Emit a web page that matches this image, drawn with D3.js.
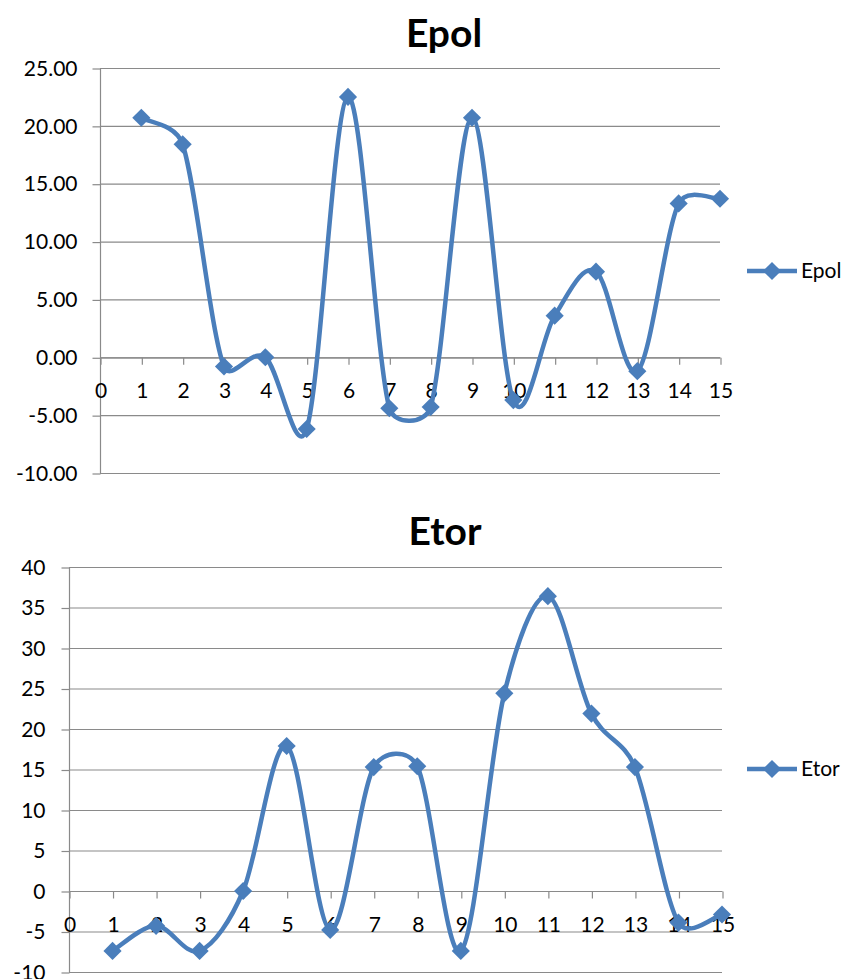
<!DOCTYPE html>
<html>
<head>
<meta charset="utf-8">
<script src="https://cdn.jsdelivr.net/npm/d3@7"></script>
<style>
  html, body { margin: 0; padding: 0; background: #ffffff; }
  svg { display: block; }
  text { font-family: Lato, "Open Sans", "Liberation Sans", sans-serif; fill: #000; }
</style>
</head>
<body>
<svg id="chart" width="845" height="979"></svg>
<script>
// ---- data ----
const categories = [1, 2, 3, 4, 5, 6, 7, 8, 9, 10, 11, 12, 13, 14, 15];
const epolValues = [20.7, 18.4, -0.8, 0.0, -6.2, 22.5, -4.4, -4.3, 20.7, -3.7, 3.6, 7.4, -1.2, 13.3, 13.7];
const etorValues = [-7.4, -4.3, -7.4, 0.0, 17.9, -4.8, 15.3, 15.4, -7.4, 24.4, 36.4, 21.9, 15.3, -3.9, -2.9];
const xTicks = [0, 1, 2, 3, 4, 5, 6, 7, 8, 9, 10, 11, 12, 13, 14, 15];
const epolYTicks = [-10, -5, 0, 5, 10, 15, 20, 25];
const etorYTicks = [-10, -5, 0, 5, 10, 15, 20, 25, 30, 35, 40];

const COLOR = "#4a7ebb";
const GRID = "#8a8a8a";
const svg = d3.select("#chart");
const fmtLocale = d3.formatLocale({ decimal: ".", thousands: ",", grouping: [3], currency: ["", ""], minus: "-" });

// Excel-like smoothed line: Bezier segments, tangent along (P2-P0),
// handle length = min(|P0P2|/6, 0.44*|P1P2|)
function smoothPath(pts) {
  const p = d3.path();
  const dist = (a, b) => Math.hypot(b[0] - a[0], b[1] - a[1]);
  p.moveTo(pts[0][0], pts[0][1]);
  for (let i = 0; i < pts.length - 1; i++) {
    const p0 = pts[Math.max(i - 1, 0)], p1 = pts[i], p2 = pts[i + 1], p3 = pts[Math.min(i + 2, pts.length - 1)];
    const d12 = dist(p1, p2), d02 = dist(p0, p2), d13 = dist(p1, p3);
    const f1 = Math.min(1 / 6, 0.44 * d12 / d02);
    const f2 = Math.min(1 / 6, 0.44 * d12 / d13);
    const c1 = [p1[0] + (p2[0] - p0[0]) * f1, p1[1] + (p2[1] - p0[1]) * f1];
    const c2 = [p2[0] - (p3[0] - p1[0]) * f2, p2[1] - (p3[1] - p1[1]) * f2];
    p.bezierCurveTo(c1[0], c1[1], c2[0], c2[1], p2[0], p2[1]);
  }
  return p.toString();
}

function drawPanel(cfg) {
  const g = svg.append("g");
  const x = d3.scaleLinear().domain([0, 15]).range([cfg.left, cfg.right]);
  const y = d3.scaleLinear().domain([cfg.ymin, cfg.ymax]).range([cfg.bottom, cfg.top]);

  // title
  g.append("text").attr("x", cfg.titleX).attr("y", cfg.titleY)
    .attr("text-anchor", "middle").style("font-size", "39px").style("font-weight", "bold")
    .text(cfg.title);

  // gridlines
  g.selectAll(".grid").data(cfg.yTicks).enter().append("line")
    .attr("x1", cfg.left).attr("x2", cfg.right)
    .attr("y1", d => y(d) + 0.5).attr("y2", d => y(d) + 0.5)
    .attr("stroke", GRID).attr("stroke-width", 1.2);

  // y axis
  const yAxis = d3.axisLeft(y).tickValues(cfg.yTicks).tickSize(8).tickPadding(cfg.yPad)
    .tickFormat(cfg.yFormat);
  const ya = g.append("g").attr("transform", `translate(${cfg.left + 0.5},0.5)`).call(yAxis);
  ya.selectAll("path, line").attr("stroke", GRID).attr("stroke-width", 1.2);
  ya.select(".domain").attr("d", `M0,${y(cfg.ymin)}V${y(cfg.ymax)}`);
  ya.selectAll("text").style("font-size", "21px").style("font-family", "Lato, sans-serif").attr("fill", "#000");

  // x axis at y=0
  const xAxis = d3.axisBottom(x).tickValues(xTicks).tickSize(7).tickPadding(0).tickFormat(fmtLocale.format("d"));
  const xa = g.append("g").attr("transform", `translate(0.5,${y(0) + 0.5})`).call(xAxis);
  xa.selectAll("path, line").attr("stroke", GRID).attr("stroke-width", 1.2);
  xa.select(".domain").attr("d", `M${cfg.left},0H${cfg.right}`);
  xa.selectAll(".tick text").attr("y", 40).attr("dy", null)
    .style("font-size", "21px").style("font-family", "Lato, sans-serif").attr("fill", "#000");

  // series
  const pts = categories.map((c, i) => [x(c), y(cfg.values[i])]);
  g.append("path").attr("d", smoothPath(pts)).attr("fill", "none")
    .attr("stroke", COLOR).attr("stroke-width", 4.5).attr("stroke-linejoin", "round");
  const diamond = d3.symbol().type(d3.symbolDiamond2).size(210);
  g.selectAll(".mk").data(pts).enter().append("path")
    .attr("transform", d => `translate(${d[0]},${d[1]})`)
    .attr("d", diamond).attr("fill", COLOR);

  // legend
  g.append("line").attr("x1", 747).attr("x2", 797).attr("y1", cfg.legendY).attr("y2", cfg.legendY)
    .attr("stroke", COLOR).attr("stroke-width", 4.5);
  g.append("path").attr("transform", `translate(772,${cfg.legendY})`).attr("d", diamond).attr("fill", COLOR);
  g.append("text").attr("x", 801).attr("y", cfg.legendY).attr("dy", "0.35em")
    .style("font-size", "21px").text(cfg.title);
}

drawPanel({
  title: "Epol", titleX: 444, titleY: 47,
  values: epolValues, yTicks: epolYTicks, ymin: -10, ymax: 25,
  left: 100, right: 720, top: 68, bottom: 473, yPad: 15,
  yFormat: fmtLocale.format(".2f"), legendY: 271
});

drawPanel({
  title: "Etor", titleX: 445, titleY: 545,
  values: etorValues, yTicks: etorYTicks, ymin: -10, ymax: 40,
  left: 69, right: 722, top: 567, bottom: 972, yPad: 16,
  yFormat: fmtLocale.format("d"), legendY: 769
});
</script>
</body>
</html>
